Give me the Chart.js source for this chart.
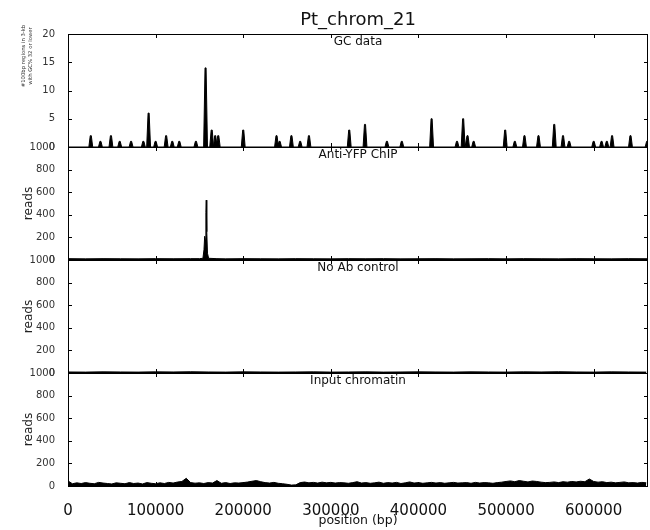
<!DOCTYPE html>
<html>
<head>
<meta charset="utf-8">
<script src="https://cdn.jsdelivr.net/npm/chart.js@4"></script>
<style>
  body { margin: 0; background: #fff; }
  #wrap { position: relative; width: 650px; height: 530px; }
  #wrap canvas { position: absolute; left: 0; top: 0; }
</style>
</head>
<body>
<div id="wrap">
  <canvas id="gc" width="650" height="530"></canvas>
  <canvas id="chip" width="650" height="530"></canvas>
  <canvas id="noab" width="650" height="530"></canvas>
  <canvas id="input" width="650" height="530"></canvas>
</div>
<script>
// chromosome extent and axis ticks
const xMax = 662000;
const xTickValues = [0, 100000, 200000, 300000, 400000, 500000, 600000];

// GC data: peak positions (bp) and count of low-GC 100bp regions
const gcPositions = [26000, 37000, 49000, 59000, 72000, 86000, 92000, 100000, 112000, 119000,
  127000, 146000, 157000, 164000, 168000, 171500, 200000, 238000, 241500, 255000,
  265000, 275000, 321000, 339000, 364000, 381000, 415000, 444000, 451000, 456000,
  463000, 499000, 510000, 521000, 537000, 555000, 565000, 572000, 600000, 609000,
  615000, 621000, 642000, 661000];
const gcCounts = [2, 1, 2, 1, 1, 1, 6, 1, 2, 1,
  1, 1, 14, 3, 2, 2, 3, 2, 1, 2,
  1, 2, 3, 4, 1, 1, 5, 1, 5, 2,
  1, 3, 1, 2, 2, 4, 2, 1, 1, 1,
  1, 2, 2, 1];

// Anti-YFP ChIP reads
const chipPos = [0, 20000, 40000, 60000, 80000, 100000, 120000, 140000, 150000, 154000,
  155200, 156000, 156800, 157400, 157800, 158400, 159200, 160500, 170000, 180000,
  200000, 220000, 240000, 260000, 280000, 300000, 320000, 340000, 360000, 380000,
  400000, 420000, 440000, 460000, 480000, 500000, 520000, 540000, 560000, 580000,
  600000, 620000, 640000, 662000];
const chipReads = [12, 10, 12, 11, 10, 12, 11, 12, 12, 15,
  90, 210, 180, 420, 530, 250, 60, 15, 12, 10,
  12, 11, 10, 12, 11, 10, 12, 11, 12, 10,
  11, 12, 10, 11, 12, 10, 12, 11, 10, 12,
  11, 10, 12, 11];

// No Ab control reads, every 20 kb
const noAbPos = [0, 20000, 40000, 60000, 80000, 100000, 120000, 140000, 160000, 180000,
  200000, 220000, 240000, 260000, 280000, 300000, 320000, 340000, 360000, 380000,
  400000, 420000, 440000, 460000, 480000, 500000, 520000, 540000, 560000, 580000,
  600000, 620000, 640000, 660000];
const noAbReads = [9, 8, 10, 9, 8, 10, 9, 11, 9, 8,
  10, 9, 8, 9, 10, 8, 9, 10, 8, 9,
  10, 9, 8, 10, 9, 8, 10, 9, 11, 9,
  8, 10, 9, 8];

// Input chromatin reads, every 5 kb from 0
const inputStep = 5000;
const inputReads = [45, 20, 28, 22, 30, 24, 20, 32, 26, 22,
  18, 28, 24, 20, 30, 22, 26, 18, 30, 24,
  20, 28, 22, 32, 26, 35, 40, 68, 30, 25,
  28, 22, 30, 26, 48, 24, 30, 22, 28, 26,
  30, 35, 42, 48, 38, 30, 26, 32, 24, 20,
  15, 8, 10, 30, 35, 28, 32, 26, 34, 28,
  32, 26, 30, 28, 24, 30, 38, 26, 30, 24,
  28, 34, 24, 30, 26, 32, 22, 28, 36, 26,
  30, 24, 28, 32, 26, 30, 24, 28, 32, 26,
  28, 30, 24, 32, 26, 30, 28, 24, 30, 34,
  40, 45, 38, 48, 42, 36, 44, 40, 34, 30,
  32, 36, 30, 38, 34, 40, 36, 42, 38, 62,
  40, 34, 38, 30, 34, 28, 32, 36, 28, 30,
  26, 32, 28];

Chart.defaults.font.family = "'DejaVu Sans', sans-serif";
Chart.defaults.animation = false;

// frame, inward ticks and captions for each panel
const panelFrame = {
  id: 'panelFrame',
  afterDraw(chart, args, opts) {
    const { ctx, chartArea: a, scales: { x, y } } = chart;
    ctx.save();
    ctx.strokeStyle = '#000';
    ctx.lineWidth = 1;
    ctx.strokeRect(a.left + 0.5, a.top + 0.5, a.right - a.left - 1, a.bottom - a.top);
    ctx.beginPath();
    xTickValues.forEach(v => {
      const px = Math.round(x.getPixelForValue(v)) + 0.5;
      ctx.moveTo(px, a.top); ctx.lineTo(px, a.top + 4);
      ctx.moveTo(px, a.bottom); ctx.lineTo(px, a.bottom - 4);
    });
    y.ticks.forEach(t => {
      const py = Math.round(y.getPixelForValue(t.value)) + 0.5;
      ctx.moveTo(a.left, py); ctx.lineTo(a.left + 4, py);
      ctx.moveTo(a.right, py); ctx.lineTo(a.right - 4, py);
    });
    ctx.stroke();

    ctx.fillStyle = '#111';
    ctx.textAlign = 'center';
    ctx.textBaseline = 'middle';
    const cx = (a.left + a.right) / 2;
    ctx.font = "12px 'DejaVu Sans'";
    ctx.fillText(opts.caption, cx, a.top + 8);

    if (opts.title) {
      ctx.font = "18px 'DejaVu Sans'";
      ctx.fillText(opts.title, cx, 20);
    }
    if (opts.sideLabel) {
      ctx.font = "5.3px 'DejaVu Sans'";
      ctx.fillStyle = '#333';
      ctx.translate(24, 56);
      ctx.rotate(-Math.PI / 2);
      ctx.fillText(opts.sideLabel[0], 0, 0);
      ctx.fillText(opts.sideLabel[1], 0, 6.5);
    }
    ctx.restore();
  }
};

// each GC count is drawn as a narrow peak on the zero baseline
function gcOutline() {
  const pts = [{ x: 0, y: 0 }];
  gcPositions.forEach((p, i) => {
    pts.push({ x: p - 2200, y: 0 }, { x: p - 600, y: gcCounts[i] },
      { x: p + 600, y: gcCounts[i] }, { x: p + 2200, y: 0 });
  });
  pts.push({ x: xMax, y: 0 });
  return pts;
}

const pairs = (xs, ys) => xs.map((v, i) => ({ x: v, y: ys[i] }));

function makePanel(id, index, points, yMax, yStep, extra) {
  const top = 34 + 113 * index;
  const last = index === 3;
  const yOpts = {
    min: 0, max: yMax,
    grid: { display: false },
    border: { display: false },
    ticks: {
      stepSize: yStep, padding: 5, color: '#333', font: { size: 10 },
      autoSkip: false, callback: v => String(v)
    },
    title: { display: !!extra.yTitle, text: extra.yTitle, color: '#222', font: { size: 12 } },
    afterFit: s => { s.width = 50; }
  };
  const xOpts = {
    type: 'linear', min: 0, max: xMax,
    display: last,
    grid: { display: false },
    border: { display: false },
    ticks: {
      padding: 8, maxRotation: 0, autoSkip: false,
      color: '#111', font: { size: 15 },
      callback: v => String(v)
    },
    afterBuildTicks: s => { s.ticks = xTickValues.map(v => ({ value: v })); },
    title: { display: last, text: 'position (bp)', color: '#111', font: { size: 12.5 }, padding: { top: 0, bottom: 2 } }
  };
  if (last) xOpts.afterFit = s => { s.height = 44; };
  return new Chart(document.getElementById(id), {
    type: 'line',
    data: {
      datasets: [{
        data: points,
        borderColor: '#000',
        backgroundColor: '#000',
        borderWidth: 1,
        pointRadius: 0,
        tension: 0,
        fill: 'origin'
      }]
    },
    options: {
      responsive: false,
      layout: { padding: { left: 18, right: 2, top: top, bottom: last ? 0 : 530 - (top + 113) } },
      plugins: {
        legend: { display: false },
        tooltip: { enabled: false },
        panelFrame: extra
      },
      scales: { x: xOpts, y: yOpts }
    },
    plugins: [panelFrame]
  });
}

makePanel('gc', 0, gcOutline(), 20, 5, {
  caption: 'GC data',
  title: 'Pt_chrom_21',
  sideLabel: ['#100bp regions in 3-kb', 'with GC% 32 or lower']
});
makePanel('chip', 1, pairs(chipPos, chipReads), 1000, 200, { caption: 'Anti-YFP ChIP', yTitle: 'reads' });
makePanel('noab', 2, pairs(noAbPos, noAbReads), 1000, 200, { caption: 'No Ab control', yTitle: 'reads' });
makePanel('input', 3, inputReads.map((r, i) => ({ x: i * inputStep, y: r })), 1000, 200,
  { caption: 'Input chromatin', yTitle: 'reads' });
</script>
</body>
</html>
